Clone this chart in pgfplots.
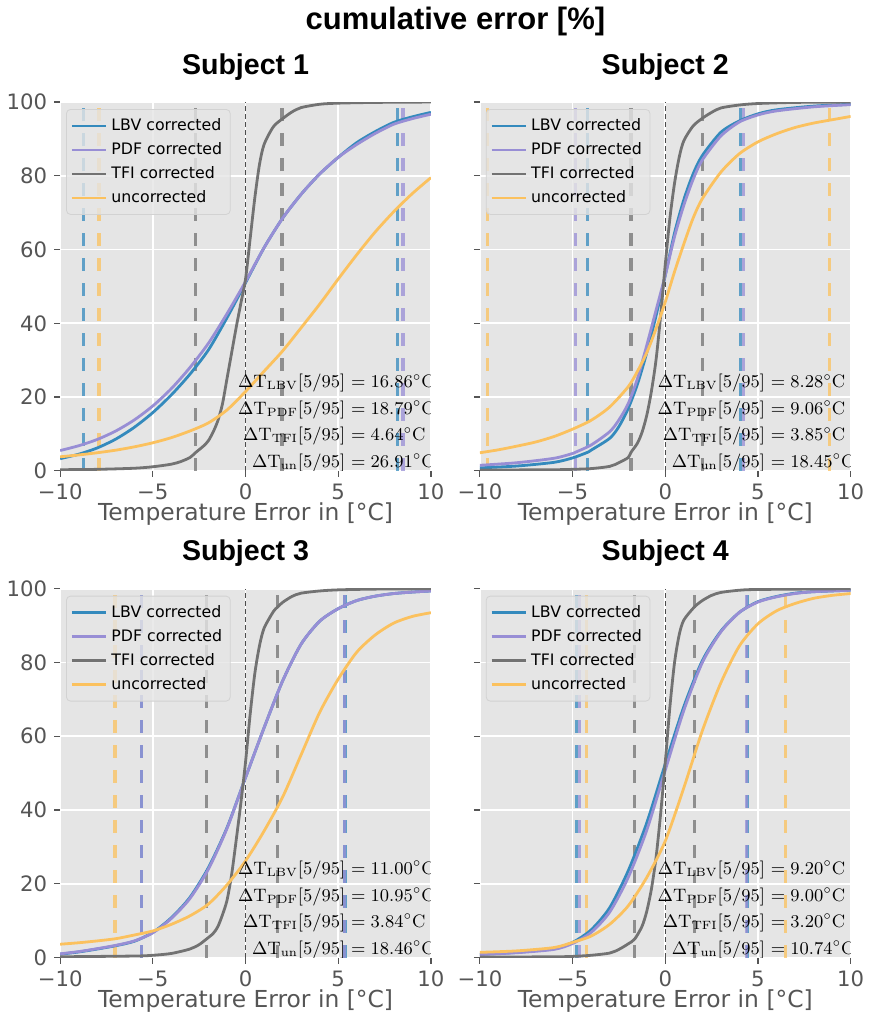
\documentclass[border=0pt]{standalone}
\usepackage[no-math]{fontspec}
\setmainfont{DejaVu Sans}
\newfontfamily\titlefont{Liberation Sans}
\usepackage{pgfplots}
\pgfplotsset{compat=1.18}
\usepgfplotslibrary{groupplots}
\usetikzlibrary{calc}

\definecolor{bggray}{HTML}{E5E5E5}
\definecolor{tickgray}{HTML}{555555}
\definecolor{legedge}{HTML}{D2D2D2}
\definecolor{lbv}{HTML}{348ABD}
\definecolor{pdf}{HTML}{988ED5}
\definecolor{tfi}{HTML}{727272}
\definecolor{unc}{HTML}{FBC15E}

\pgfplotsset{
  cdf/.style={
    width=185.5pt, height=184.5pt, scale only axis,
    xmin=-10, xmax=10, ymin=0, ymax=100,
    xtick={-10,-5,0,5,10}, xticklabels={−10,−5,0,5,10},
    ytick={0,20,40,60,80,100},
    axis background/.style={fill=bggray},
    axis line style={draw=none},
    grid=major, grid style={white, line width=0.9pt},
    tick align=outside, major tick length=3pt,
    tick style={color=tickgray, line width=0.6pt},
    xtick pos=left, ytick pos=left,
    tick label style={font=\fontsize{10.6}{12}\selectfont, color=tickgray},
    /pgf/number format/assume math mode=true,
    xlabel={Temperature Error in [°C]},
    xlabel style={font=\fontsize{11.7}{14}\selectfont, color=tickgray,
      at={(0.5,0)}, anchor=base, yshift=-25pt},
    title style={font=\titlefont\bfseries\fontsize{14.3}{17}\selectfont,
      at={(0.5,1)}, anchor=base, yshift=8pt},
    legend style={at={(0.016,0.981)}, anchor=north west, fill=bggray,
      fill opacity=0.8, text opacity=1, draw=legedge, rounded corners=2pt,
      font=\fontsize{7.9}{9.5}\selectfont, row sep=0.5pt,
      inner xsep=2pt, inner ysep=2.5pt},
    legend cell align=left,
  },
  curve/.style={line width=1.4pt, no marks, smooth, tension=0.45},
  pct/.style={line width=1.6pt, opacity=0.75, dash pattern=on 6.5pt off 6pt, forget plot, no marks},
  zero/.style={line width=0.5pt, color=black!70, dash pattern=on 2.5pt off 1.5pt, forget plot, no marks},
}

% annotation lines, aligned on the "="
\newcommand{\anno}[3]{%
  \node[anchor=base east, inner sep=0pt, font=\fontsize{8.8}{10}\selectfont] at (axis cs:5.4,#1) {$\Delta\mathrm{T}_{\mathrm{#2}}[5/95]$};
  \node[anchor=base west, inner sep=0pt, font=\fontsize{8.8}{10}\selectfont] at (axis cs:5.4,#1) {${}=#3^{\circ}\mathrm{C}$};}

\begin{document}
\begin{tikzpicture}
\begin{groupplot}[
  group style={group size=2 by 2, horizontal sep=24.5pt, vertical sep=59pt,
    y descriptions at=edge left},
  cdf,
]

% ---------------- Subject 1 ----------------
\nextgroupplot[title={Subject 1}]
\addplot[zero] coordinates {(0,0) (0,100)};
\addplot[pct, lbv] coordinates {(-8.74,0) (-8.74,100)};
\addplot[pct, lbv] coordinates {(8.18,0) (8.18,100)};
\addplot[pct, pdf] coordinates {(8.49,0) (8.49,100)};
\addplot[pct, tfi] coordinates {(-2.68,0) (-2.68,100)};
\addplot[pct, tfi] coordinates {(1.97,0) (1.97,100)};
\addplot[pct, unc] coordinates {(-7.90,0) (-7.90,100)};
\addplot[curve, lbv] coordinates {(-10,3.3)(-9,4.5)(-8,6.2)(-7,8.6)(-6,11.8)(-5,15.8)(-4,20.6)(-3,26.2)(-2,32.8)(-1,41.5)(0,51)(1,60.5)(2,68.5)(3,75)(4,80.5)(5,85)(6,89)(7,92)(8,94.5)(9,96)(10,97.2)};
\addplot[curve, pdf] coordinates {(-10,5.5)(-9,6.8)(-8,8.5)(-7,10.8)(-6,13.8)(-5,17.6)(-4,22.3)(-3,28)(-2,34.6)(-1,42.6)(0,51.3)(1,60.5)(2,68.5)(3,75)(4,80.5)(5,85)(6,88.5)(7,91.5)(8,94)(9,95.5)(10,96.7)};
\addplot[curve, tfi] coordinates {(-10,0.3)(-8,0.4)(-6,0.7)(-5,1.1)(-4,1.8)(-3.5,2.5)(-3,3.6)(-2.68,5)(-2.25,6.8)(-2,8.2)(-1.75,10.5)(-1.5,13.5)(-1.25,18)(-1,25)(-0.75,32)(-0.5,39)(-0.25,45.5)(0,52)(0.25,63)(0.5,74)(0.75,83)(1,88.5)(1.5,93.3)(2,95.5)(2.5,97.3)(3,98.5)(4,99.4)(5,99.7)(7,99.9)(10,100)};
\addplot[curve, unc] coordinates {(-10,3.8)(-9,4.3)(-8,4.9)(-7,5.6)(-6,6.5)(-5,7.6)(-4,9)(-3,10.8)(-2,13)(-1,16.5)(0,21.5)(1,27)(2,32.5)(3,38.8)(4,45.2)(5,52)(6,58.6)(7,64.8)(8,70.3)(9,75.2)(10,79.5)};
\legend{LBV corrected, PDF corrected, TFI corrected, uncorrected}
\anno{22.5}{LBV}{16.86}
\anno{15.3}{PDF}{18.79}
\anno{8.1}{TFI}{4.64}
\anno{0.9}{un}{26.91}

% ---------------- Subject 2 ----------------
\nextgroupplot[title={Subject 2}]
\addplot[zero] coordinates {(0,0) (0,100)};
\addplot[pct, unc] coordinates {(-9.61,0) (-9.61,100)};
\addplot[pct, unc] coordinates {(8.87,0) (8.87,100)};
\addplot[pct, pdf] coordinates {(-4.86,0) (-4.86,100)};
\addplot[pct, pdf] coordinates {(4.20,0) (4.20,100)};
\addplot[pct, lbv] coordinates {(-4.21,0) (-4.21,100)};
\addplot[pct, lbv] coordinates {(4.07,0) (4.07,100)};
\addplot[pct, tfi] coordinates {(-1.85,0) (-1.85,100)};
\addplot[pct, tfi] coordinates {(2.00,0) (2.00,100)};
\addplot[curve, lbv] coordinates {(-10,0.8)(-8,1.3)(-6,2.3)(-5,3.5)(-4.2,5)(-4,5.6)(-3,8.8)(-2.5,12)(-2,16.9)(-1.5,23.5)(-1,32)(-0.5,42)(0,53)(0.5,64.5)(1,73.5)(1.5,80.5)(2,85.5)(3,91.8)(4,94.9)(5,96.8)(6,97.9)(8,98.9)(10,99.4)};
\addplot[curve, pdf] coordinates {(-10,1.5)(-8,2.2)(-6,3.4)(-5,4.7)(-4.86,5)(-4,7)(-3,10.6)(-2.5,13.8)(-2,18.2)(-1.5,25)(-1,34)(-0.5,43.5)(0,53)(0.5,63.5)(1,72)(1.5,79)(2,84.3)(3,90.8)(4,94.6)(5,96.5)(6,97.6)(8,98.7)(10,99.3)};
\addplot[curve, tfi] coordinates {(-10,0.2)(-6,0.3)(-5,0.4)(-4,0.6)(-3,1.2)(-2.5,2.2)(-2,3.6)(-1.85,5)(-1.5,7.5)(-1.25,10.5)(-1,15)(-0.75,21.5)(-0.5,30)(-0.25,42)(0,56)(0.25,68.5)(0.5,78)(0.75,85)(1,89.5)(1.5,93.5)(2,95.6)(2.5,97.2)(3,98.4)(4,99.2)(5,99.6)(7,99.9)(10,100)};
\addplot[curve, unc] coordinates {(-10,4.9)(-9,5.7)(-8,6.7)(-7,7.8)(-6,9.3)(-5,11.3)(-4,13.7)(-3,17.3)(-2,22.8)(-1.5,27)(-1,32)(-0.5,38.5)(0,45.8)(0.5,54)(1,61.5)(1.5,68.5)(2,73.8)(3,81)(4,86)(5,89.2)(6,91.4)(7,93.1)(8,94.3)(9,95.2)(10,96.1)};
\legend{LBV corrected, PDF corrected, TFI corrected, uncorrected}
\anno{22.5}{LBV}{8.28}
\anno{15.3}{PDF}{9.06}
\anno{8.1}{TFI}{3.85}
\anno{0.9}{un}{18.45}

% ---------------- Subject 3 ----------------
\nextgroupplot[title={Subject 3}]
\addplot[zero] coordinates {(0,0) (0,100)};
\addplot[pct, unc] coordinates {(-7.04,0) (-7.04,100)};
\addplot[pct, lbv] coordinates {(-5.63,0) (-5.63,100)};
\addplot[pct, lbv] coordinates {(5.37,0) (5.37,100)};
\addplot[pct, pdf] coordinates {(-5.61,0) (-5.61,100)};
\addplot[pct, pdf] coordinates {(5.34,0) (5.34,100)};
\addplot[pct, tfi] coordinates {(-2.11,0) (-2.11,100)};
\addplot[pct, tfi] coordinates {(1.72,0) (1.72,100)};
\addplot[curve, lbv] coordinates {(-10,0.9)(-9,1.5)(-8,2.3)(-7,3.2)(-6,4.4)(-5,6.8)(-4,10.8)(-3,16.3)(-2,24.4)(-1,35.2)(0,48.8)(1,62.3)(2,75)(3,85)(4,91.2)(5,94.6)(6,96.8)(7,98)(8,98.7)(9,99.1)(10,99.4)};
\addplot[curve, pdf] coordinates {(-10,1.0)(-9,1.6)(-8,2.4)(-7,3.3)(-6,4.5)(-5,6.7)(-4,10.6)(-3,16)(-2,24)(-1,35)(0,48.8)(1,62.3)(2,75)(3,85)(4,91.2)(5,94.6)(6,96.8)(7,98)(8,98.7)(9,99.1)(10,99.4)};
\addplot[curve, tfi] coordinates {(-10,0.2)(-6,0.4)(-5,0.6)(-4,1.1)(-3,2.3)(-2.5,3.5)(-2.11,5)(-1.75,6.5)(-1.5,8.3)(-1.25,11.5)(-1,15.5)(-0.75,22.5)(-0.5,32)(-0.25,42)(0,53)(0.25,66)(0.5,77)(0.75,84.5)(1,89.3)(1.5,93.8)(1.72,95)(2,96.3)(2.5,97.9)(3,98.8)(4,99.4)(5,99.7)(7,99.9)(10,100)};
\addplot[curve, unc] coordinates {(-10,3.6)(-9,4)(-8,4.5)(-7,5.1)(-6,6.1)(-5,7.2)(-4,9)(-3,11.3)(-2,14.5)(-1,19.7)(0,26.2)(1,34.3)(2,43.5)(3,55)(4,66.5)(5,75.5)(6,82.8)(7,87.5)(8,90.7)(9,92.5)(10,93.5)};
\legend{LBV corrected, PDF corrected, TFI corrected, uncorrected}
\anno{22.5}{LBV}{11.00}
\anno{15.3}{PDF}{10.95}
\anno{8.1}{TFI}{3.84}
\anno{0.9}{un}{18.46}

% ---------------- Subject 4 ----------------
\nextgroupplot[title={Subject 4}]
\addplot[zero] coordinates {(0,0) (0,100)};
\addplot[pct, lbv] coordinates {(-4.78,0) (-4.78,100)};
\addplot[pct, lbv] coordinates {(4.42,0) (4.42,100)};
\addplot[pct, pdf] coordinates {(-4.62,0) (-4.62,100)};
\addplot[pct, pdf] coordinates {(4.38,0) (4.38,100)};
\addplot[pct, unc] coordinates {(-4.25,0) (-4.25,100)};
\addplot[pct, unc] coordinates {(6.49,0) (6.49,100)};
\addplot[pct, tfi] coordinates {(-1.65,0) (-1.65,100)};
\addplot[pct, tfi] coordinates {(1.56,0) (1.56,100)};
\addplot[curve, lbv] coordinates {(-10,0.9)(-8,1.4)(-6,2.5)(-5,4.1)(-4,7.5)(-3,13.5)(-2,23.5)(-1,36.5)(0,52.5)(1,68)(2,80.5)(3,88.5)(4,93.6)(5,96.5)(6,97.9)(7,98.8)(8,99.2)(10,99.6)};
\addplot[curve, pdf] coordinates {(-10,0.8)(-8,1.3)(-6,2.2)(-5,3.8)(-4,6.8)(-3,12.3)(-2,21.7)(-1,34.5)(0,50.8)(1,67)(2,80)(3,88.3)(4,93.6)(5,96.4)(6,97.8)(7,98.7)(8,99.2)(10,99.6)};
\addplot[curve, tfi] coordinates {(-10,0.1)(-6,0.2)(-5,0.3)(-4,0.6)(-3,1.2)(-2.5,2.2)(-2,3.7)(-1.65,5)(-1.25,8.5)(-1,12.5)(-0.75,18.5)(-0.5,27)(-0.25,39)(0,53)(0.25,68)(0.5,80)(0.75,87.5)(1,91.5)(1.56,95)(2,96.8)(2.5,98.2)(3,99)(4,99.6)(5,99.8)(10,100)};
\addplot[curve, unc] coordinates {(-10,1.4)(-8,1.8)(-6,2.7)(-5,4.1)(-4,5.8)(-3,9)(-2,14)(-1,21.7)(0,31.6)(1,46)(2,61.5)(3,74.5)(4,84.5)(5,90.5)(6,94)(7,96)(8,97.4)(9,98.2)(10,98.7)};
\legend{LBV corrected, PDF corrected, TFI corrected, uncorrected}
\anno{22.5}{LBV}{9.20}
\anno{15.3}{PDF}{9.00}
\anno{8.1}{TFI}{3.20}
\anno{0.9}{un}{10.74}
\end{groupplot}

\node[font=\titlefont\bfseries\fontsize{15.5}{18}\selectfont, anchor=base]
  at ($(group c1r1.north east)!0.5!(group c2r1.north west)+(0,36.5pt)$) {cumulative error [\%]};
\end{tikzpicture}
\end{document}
